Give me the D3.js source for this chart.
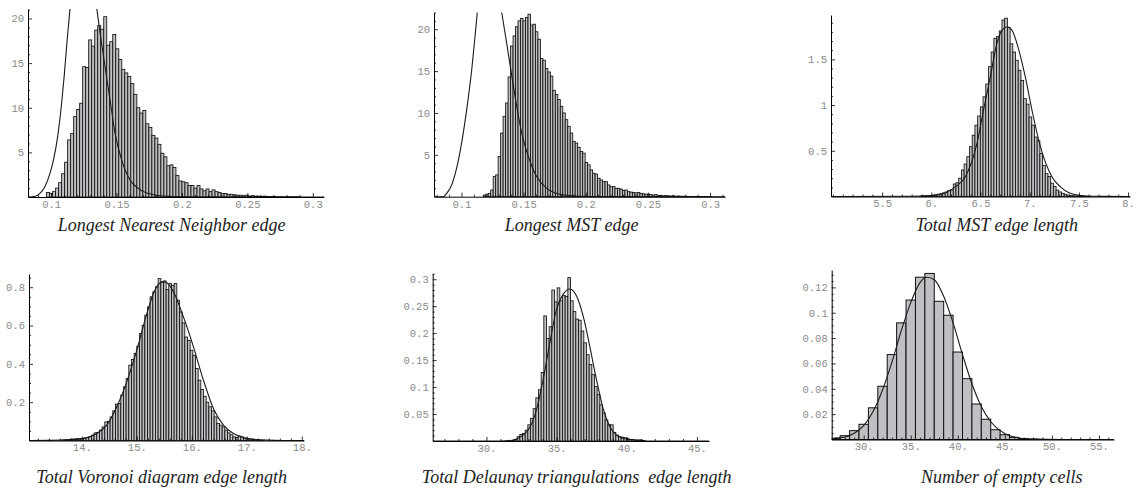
<!DOCTYPE html>
<html>
<head>
<meta charset="utf-8">
<script src="https://cdn.jsdelivr.net/npm/d3@7"></script>
<style>
  body { margin: 0; background: #fff; }
  .axis text { font-family: "Liberation Mono", "Courier New", monospace; font-size: 10.5px; fill: #8a8a8a; }
  .title { font-family: "Liberation Serif", "Times New Roman", serif; font-style: italic; font-size: 18px; fill: #222; }
</style>
</head>
<body>
<svg id="chart" width="1139" height="488"></svg>
<script>
// ---- histogram data (bar heights) ----
var nnStart = 0.0965, nnWidth = 0.0023;
var nnValues = [0.5,0.4,0.6,1.0,1.6,2.6,3.9,6.4,7.1,9.0, 9.8,10.5,14.6,14.5,17.6,16.9,18.7,19.2,18.8,20.2,
  17.0,17.4,18.2,16.6,15.4,14.3,13.9,13.5,12.7,11.5, 10.0,9.4,9.7,8.2,7.8,6.9,6.6,5.9,4.9,4.5,
  3.5,3.6,3.3,2.4,1.8,1.7,1.6,1.3,1.3,1.0, 1.3,0.9,0.7,0.9,0.6,0.8,0.6,0.5,0.4,0.4,
  0.3,0.3,0.25,0.2,0.2,0.15,0.2,0.1,0.15,0.1, 0.1,0.05,0.1,0.05,0.05,0.05,0.03,0.03,0.03,0.02, 0.03,0.02,0.02,0.02];
var nnCurveX = [0.0823,0.087,0.091,0.095,0.099,0.102,0.105,0.108,0.110,0.112,0.1145,0.118,0.122,0.126,0.130,0.1348,0.1374,0.1412,0.145,0.1489,0.1539,0.1603,0.1666,0.1768,0.192,0.21,0.3086];
var nnCurveY = [0,0.05,0.35,1.1,2.6,4.3,6.8,10.5,13.6,17.2,21.2,26.5,29.5,29,25.5,21.2,18.4,14.6,10.9,7.1,4.15,1.9,0.97,0.3,0.04,0,0];

var mstStart = 0.1175, mstWidth = 0.002;
var mstValues = [0.2,0.3,0.4,0.8,2.4,2.6,4.8,7.6,9.6,11.2, 14.3,18.0,19.2,20.3,21.0,21.3,21.0,21.4,21.8,20.5,
  20.6,19.7,18.8,16.5,16.3,15.3,14.9,14.4,12.7,12.2, 11.6,10.8,10.0,9.2,8.4,7.6,6.6,6.4,5.9,5.4,
  5.2,4.1,3.8,3.2,2.8,2.7,2.2,2.0,1.8,1.8, 1.4,1.2,1.2,1.0,1.0,0.9,0.75,0.8,0.6,0.55,
  0.5,0.45,0.5,0.4,0.35,0.3,0.3,0.25,0.2,0.25, 0.15,0.15,0.1,0.15,0.1,0.08,0.1,0.05,0.08,0.05,
  0.05,0.05,0.03,0.04,0.03,0.02,0.03,0.02,0.02,0.02, 0.03,0.02];
var mstCurveX = [0.0779,0.0853,0.0881,0.0921,0.0961,0.1001,0.1042,0.1082,0.1109,0.1127,0.117,0.122,0.127,0.1324,0.1364,0.1404,0.1444,0.1485,0.1538,0.1605,0.1686,0.1793,0.1954,0.215,0.312];
var mstCurveY = [0,0,0.4,1.4,3.4,6.4,10.4,15.1,19.1,22,27.5,29.5,27.5,22,18.3,14.5,10.8,7.6,4.8,2.4,1.0,0.3,0.05,0,0];

var totStart = 5.8935, totWidth = 0.0275;
var totValues = [0.005,0.006,0.008,0.01,0.015,0.02,0.025,0.03,0.04,0.05, 0.065,0.07,0.137,0.15,0.2,0.29,0.355,0.435,0.545,0.67,
  0.78,0.88,0.98,1.09,1.23,1.42,1.58,1.73,1.75,1.81, 1.93,1.95,1.85,1.67,1.58,1.49,1.38,1.27,1.07,1.01,
  0.87,0.78,0.65,0.61,0.47,0.34,0.25,0.22,0.145,0.11, 0.07,0.05,0.035,0.024,0.015,0.01,0.008,0.005,0.004,0.003,
  0.002,0.002,0.001];
var totCurveX = [4.98,5.8,6.0,6.15,6.25,6.346,6.464,6.531,6.6,6.667,6.72,6.77,6.82,6.87,6.955,7.023,7.1,7.226,7.31,7.4,7.5,7.65,8.02];
var totCurveY = [0,0.002,0.01,0.045,0.11,0.216,0.581,0.946,1.31,1.675,1.82,1.856,1.82,1.675,1.31,0.946,0.581,0.216,0.108,0.04,0.012,0.002,0];

var vorStart = 13.642, vorWidth = 0.0485;
var vorValues = [0.003,0.004,0.005,0.007,0.008,0.009,0.01,0.01,0.013,0.016, 0.02,0.028,0.04,0.042,0.054,0.071,0.097,0.1,0.123,0.155,
  0.19,0.193,0.237,0.28,0.323,0.393,0.423,0.454,0.492,0.558, 0.6,0.654,0.697,0.75,0.776,0.802,0.845,0.828,0.833,0.788,
  0.819,0.81,0.819,0.732,0.671,0.614,0.54,0.523,0.471,0.445, 0.376,0.315,0.266,0.231,0.2,0.176,0.155,0.123,0.089,0.08,
  0.071,0.054,0.04,0.03,0.019,0.016,0.023,0.019,0.012,0.009, 0.007,0.005,0.004,0.003,0.002,0.001];
var vorCurveX = [13.04,13.666,14.03,14.272,14.454,14.636,14.817,14.999,15.18,15.302,15.423,15.484,15.545,15.666,15.848,16.03,16.211,16.393,16.575,16.757,16.939,17.12,17.363,17.666,18.04];
var vorCurveY = [0,0.002,0.01,0.037,0.08,0.176,0.306,0.47,0.66,0.767,0.823,0.828,0.823,0.776,0.645,0.489,0.315,0.167,0.08,0.037,0.016,0.007,0.002,0,0];

var delStart = 31.81, delWidth = 0.19;
var delValues = [0.001,0.003,0.008,0.012,0.014,0.02,0.03,0.042,0.06,0.08, 0.095,0.127,0.232,0.19,0.212,0.28,0.258,0.284,0.26,0.27,
  0.268,0.303,0.26,0.24,0.226,0.224,0.204,0.182,0.16,0.142, 0.123,0.101,0.086,0.067,0.052,0.039,0.03,0.03,0.016,0.011,
  0.008,0.007,0.006,0.004,0.003,0.003,0.002,0.002,0.002,0.001];
var delCurveX = [26.17,31.0,31.9,32.61,33.09,33.57,34.04,34.52,34.99,35.46,35.94,36.42,36.89,37.36,37.84,38.31,38.79,39.27,39.74,40.45,41.4,45.86];
var delCurveY = [0,0,0.002,0.011,0.025,0.058,0.114,0.182,0.244,0.272,0.282,0.269,0.232,0.176,0.114,0.061,0.027,0.011,0.005,0.002,0,0];

var empStart = 26.5, empWidth = 1;
var empValues = [0.001,0.003,0.007,0.012,0.025,0.042,0.067,0.092,0.110,0.128, 0.131,0.109,0.098,0.069,0.048,0.028,0.016,0.0077,0.0038,0.0017,
  0.0007,0.0003,0.0001,0.0001];
var empCurveX = [26.6,27,28,29,30,31,32,33,34,35,36,36.7,37.5,38.5,39.5,40.5,41.5,42.5,43.5,44.5,45.5,46.5,48,50,56.6];
var empCurveY = [0.0006,0.001,0.002,0.005,0.011,0.022,0.039,0.061,0.086,0.108,0.124,0.128,0.126,0.113,0.092,0.067,0.044,0.026,0.014,0.007,0.003,0.0012,0.0003,0.00005,0];

// ---- ticks and titles ----
var edgeXTicks = [0.1, 0.15, 0.2, 0.25, 0.3], edgeXLabels = ["0.1", "0.15", "0.2", "0.25", "0.3"];
var edgeYTicks = [5, 10, 15, 20], edgeYLabels = ["5", "10", "15", "20"];
var totXTicks = [5.5, 6, 6.5, 7, 7.5, 8], totXLabels = ["5.5", "6.", "6.5", "7.", "7.5", "8."];
var totYTicks = [0.5, 1, 1.5], totYLabels = ["0.5", "1", "1.5"];
var vorXTicks = [14, 15, 16, 17, 18], vorXLabels = ["14.", "15.", "16.", "17.", "18."];
var vorYTicks = [0.2, 0.4, 0.6, 0.8], vorYLabels = ["0.2", "0.4", "0.6", "0.8"];
var delXTicks = [30, 35, 40, 45], delXLabels = ["30.", "35.", "40.", "45."];
var delYTicks = [0.05, 0.1, 0.15, 0.2, 0.25, 0.3], delYLabels = ["0.05", "0.1", "0.15", "0.2", "0.25", "0.3"];
var empXTicks = [30, 35, 40, 45, 50, 55], empXLabels = ["30.", "35.", "40.", "45.", "50.", "55."];
var empYTicks = [0.02, 0.04, 0.06, 0.08, 0.1, 0.12], empYLabels = ["0.02", "0.04", "0.06", "0.08", "0.1", "0.12"];
var titles = ["Longest Nearest Neighbor edge", "Longest MST edge", "Total MST edge length",
  "Total Voronoi diagram edge length", "Total Delaunay triangulations\u00a0 edge length", "Number of empty cells"];

var svg = d3.select("#chart");

var panels = [
  {left: 28, right: 324, bottom: 197, top: 9.1, xDomain: [0.0823, 0.3086], yDomain: [0, 21.05],
   start: nnStart, width: nnWidth, values: nnValues, cx: nnCurveX, cy: nnCurveY,
   xt: edgeXTicks, xl: edgeXLabels, xm: 0.01, yt: edgeYTicks, yl: edgeYLabels, ym: 1, tx: 171.7, ty: 231},
  {left: 434, right: 725, bottom: 196.7, top: 12.5, xDomain: [0.0779, 0.312], yDomain: [0, 22],
   start: mstStart, width: mstWidth, values: mstValues, cx: mstCurveX, cy: mstCurveY,
   xt: edgeXTicks, xl: edgeXLabels, xm: 0.01, yt: edgeYTicks, yl: edgeYLabels, ym: 1, tx: 571.7, ty: 231},
  {left: 831, right: 1130, bottom: 196.5, top: 15, xDomain: [4.98, 8.02], yDomain: [0, 1.985],
   start: totStart, width: totWidth, values: totValues, cx: totCurveX, cy: totCurveY,
   xt: totXTicks, xl: totXLabels, xm: 0.1, yt: totYTicks, yl: totYLabels, ym: 0.1, tx: 996.7, ty: 231},
  {left: 29, right: 304, bottom: 440.5, top: 274, xDomain: [13.04, 18.04], yDomain: [0, 0.869],
   start: vorStart, width: vorWidth, values: vorValues, cx: vorCurveX, cy: vorCurveY,
   xt: vorXTicks, xl: vorXLabels, xm: 0.2, yt: vorYTicks, yl: vorYLabels, ym: 0.05, tx: 161.7, ty: 483},
  {left: 432.7, right: 709, bottom: 441, top: 273.3, xDomain: [26.17, 45.86], yDomain: [0, 0.311],
   start: delStart, width: delWidth, values: delValues, cx: delCurveX, cy: delCurveY,
   xt: delXTicks, xl: delXLabels, xm: 1, yt: delYTicks, yl: delYLabels, ym: 0.01, tx: 576.7, ty: 483},
  {left: 831.7, right: 1114, bottom: 439.5, top: 270, xDomain: [26.6, 56.6], yDomain: [0, 0.1337],
   start: empStart, width: empWidth, values: empValues, cx: empCurveX, cy: empCurveY,
   xt: empXTicks, xl: empXLabels, xm: 1, yt: empYTicks, yl: empYLabels, ym: 0.005, tx: 1001.7, ty: 483}
];

function minorTicks(domain, step, majors) {
  var out = [];
  var k0 = Math.ceil(domain[0] / step - 1e-6), k1 = Math.floor(domain[1] / step + 1e-6);
  for (var k = k0; k <= k1; k++) {
    var v = +(k * step).toFixed(6);
    if (v <= 0) continue;
    if (majors.some(function(m) { return Math.abs(m - v) < step / 10; })) continue;
    out.push(v);
  }
  return out;
}

panels.forEach(function(p, n) {
  var x = d3.scaleLinear().domain(p.xDomain).range([p.left, p.right]);
  var y = d3.scaleLinear().domain(p.yDomain).range([p.bottom, p.top]);
  var g = svg.append("g");

  g.append("clipPath").attr("id", "clip" + n)
    .append("rect")
      .attr("x", p.left).attr("y", p.top)
      .attr("width", p.right - p.left).attr("height", p.bottom - p.top + 1);

  var plot = g.append("g").attr("clip-path", "url(#clip" + n + ")");

  // bars
  plot.selectAll("rect.bar")
    .data(p.values)
    .join("rect")
      .attr("class", "bar")
      .attr("x", function(d, i) { return x(p.start + i * p.width); })
      .attr("width", function(d, i) { return x(p.start + (i + 1) * p.width) - x(p.start + i * p.width); })
      .attr("y", function(d) { return y(d); })
      .attr("height", function(d) { return y(0) - y(d); })
      .style("fill", "#c0c0c4")
      .style("stroke", "#111")
      .style("stroke-width", n === 5 ? 1 : 0.85);

  // fitted density
  var line = d3.line()
    .x(function(d) { return x(d[0]); })
    .y(function(d) { return y(d[1]); })
    .curve(d3.curveMonotoneX);
  plot.append("path")
    .datum(d3.zip(p.cx, p.cy))
    .attr("d", line)
    .style("fill", "none")
    .style("stroke", "#1a1a1a")
    .style("stroke-width", 1.1);

  // axes
  var yAxis = d3.axisLeft(y).tickValues(p.yt)
    .tickFormat(function(d, i) { return p.yl[i]; })
    .tickSizeInner(-4).tickSizeOuter(0).tickPadding(4);
  var yMinor = d3.axisLeft(y).tickValues(minorTicks(p.yDomain, p.ym, p.yt))
    .tickFormat("").tickSizeInner(-2).tickSizeOuter(0);
  var xAxis = d3.axisBottom(x).tickValues(p.xt)
    .tickFormat(function(d, i) { return p.xl[i]; })
    .tickSizeInner(-4).tickSizeOuter(0).tickPadding(3.5);
  var xMinor = d3.axisBottom(x).tickValues(minorTicks(p.xDomain, p.xm, p.xt))
    .tickFormat("").tickSizeInner(-2).tickSizeOuter(0);

  var ya = g.append("g").attr("class", "axis").attr("transform", "translate(" + p.left + ",0)").call(yAxis);
  var ym = g.append("g").attr("class", "axis").attr("transform", "translate(" + p.left + ",0)").call(yMinor);
  var xa = g.append("g").attr("class", "axis").attr("transform", "translate(0," + p.bottom + ")").call(xAxis);
  var xm = g.append("g").attr("class", "axis").attr("transform", "translate(0," + p.bottom + ")").call(xMinor);
  ym.select(".domain").remove();
  xm.select(".domain").remove();
  g.selectAll(".axis .domain").style("stroke", "#000").style("stroke-width", 1);
  g.selectAll(".axis line").style("stroke", "#000").style("stroke-width", 0.8);

  g.append("text")
    .attr("class", "title")
    .attr("x", p.tx).attr("y", p.ty)
    .attr("text-anchor", "middle")
    .text(titles[n]);
});
</script>
</body>
</html>
